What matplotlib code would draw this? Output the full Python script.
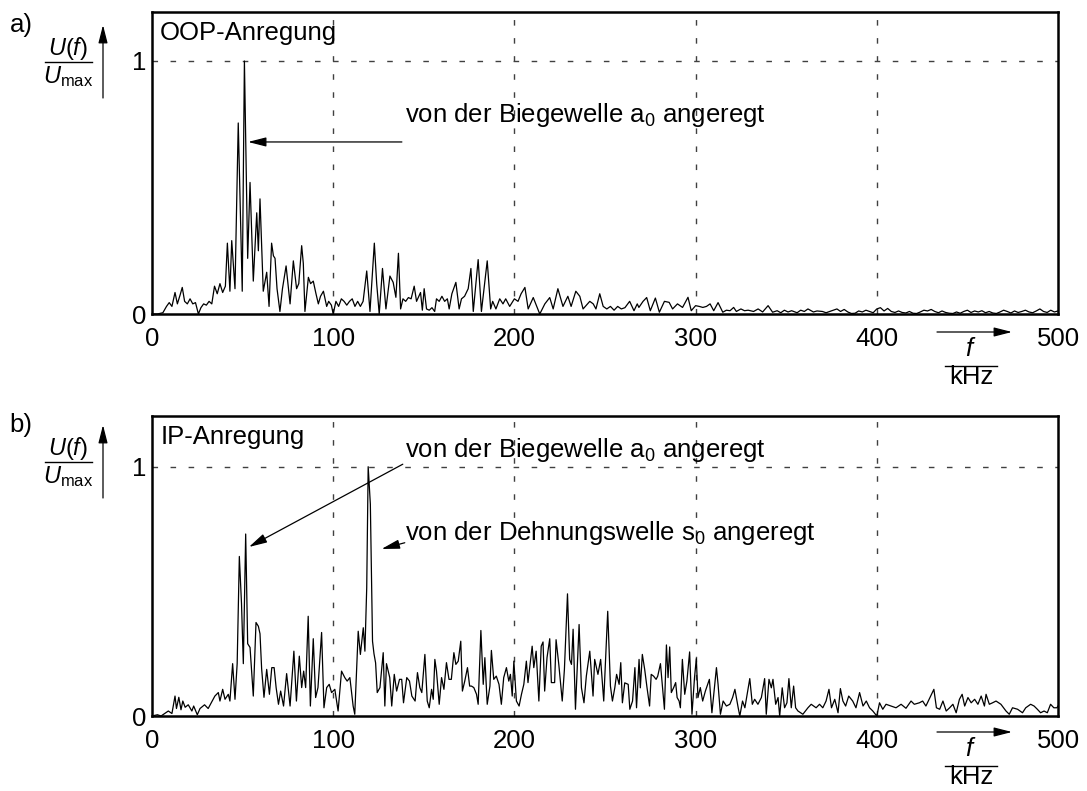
import matplotlib
matplotlib.use("Agg")
import matplotlib.pyplot as plt
from matplotlib.lines import Line2D

plt.rcParams['font.family'] = ['Liberation Sans', 'DejaVu Sans']
plt.rcParams['mathtext.fontset'] = 'custom'
plt.rcParams['mathtext.rm'] = 'Liberation Sans'
plt.rcParams['mathtext.it'] = 'Liberation Sans:italic'
plt.rcParams['mathtext.bf'] = 'Liberation Sans:bold'

# spectrum a) OOP excitation, (f in kHz, U/Umax)
spec_a = [
    (0, 0.0), (3, 0.0), (6, 0.005), (8, 0.03), (9.5, 0.045), (11, 0.03), (12.7, 0.085),
    (14, 0.04), (15.5, 0.075), (16.7, 0.105), (18, 0.05), (19.5, 0.04), (21, 0.06),
    (22.5, 0.04), (24, 0.045), (25.6, 0.0), (27, 0.025), (28.5, 0.04), (30, 0.035),
    (31.5, 0.05), (33, 0.04), (34.5, 0.11), (36, 0.08), (37.5, 0.12), (39, 0.085),
    (40.5, 0.11), (41.6, 0.28), (43, 0.09), (44, 0.29), (45.8, 0.10), (47.6, 0.755),
    (49.8, 0.09), (51, 1.0), (52.8, 0.22), (54.1, 0.52), (55.9, 0.13), (57.8, 0.40),
    (58.7, 0.25), (59.6, 0.455), (61.4, 0.09), (63.3, 0.165), (64.6, 0.03), (66, 0.28),
    (67, 0.23), (67.9, 0.22), (69, 0.1), (70.6, 0.01), (72, 0.1), (74, 0.19), (75, 0.12),
    (76.2, 0.04), (78, 0.21), (79.8, 0.1), (81, 0.12), (82.6, 0.27), (83.5, 0.2),
    (84.4, 0.01), (86.3, 0.145), (87.5, 0.12), (89, 0.13), (90.5, 0.08), (91.8, 0.04),
    (93, 0.07), (94.6, 0.09), (96.4, 0.03), (97.5, 0.05), (99, 0.035), (100, 0.0),
    (101.5, 0.05), (103, 0.03), (104.5, 0.06), (106, 0.05), (107.5, 0.035), (109, 0.05),
    (110.5, 0.06), (112, 0.03), (113.5, 0.05), (115, 0.03), (116.5, 0.05), (118.5, 0.17),
    (120.3, 0.01), (122.7, 0.28), (124, 0.12), (125.4, 0.0), (127.2, 0.18), (129.1, 0.02),
    (131.3, 0.15), (133.1, 0.125), (134.6, 0.066), (136, 0.24), (137.2, 0.02),
    (138.5, 0.06), (140, 0.05), (141.5, 0.065), (143, 0.06), (144.7, 0.11), (146, 0.05),
    (148.2, 0.085), (149.2, 0.015), (150.2, 0.1), (151.5, 0.02), (153, 0.015),
    (154.5, 0.025), (156, 0.01), (157, 0.06), (158.5, 0.05), (160, 0.07), (161.5, 0.05),
    (163, 0.06), (164, 0.02), (165.5, 0.08), (167.7, 0.125), (169.5, 0.02), (170.8, 0.06),
    (172.5, 0.07), (174.5, 0.1), (176, 0.18), (177.3, 0.01), (180, 0.215), (181.8, 0.01),
    (185, 0.21), (186.9, 0.02), (188, 0.05), (189.8, 0.02), (191.9, 0.06), (193.7, 0.04),
    (195.2, 0.06), (197.4, 0.03), (200, 0.06), (202, 0.05), (203.7, 0.08), (205.8, 0.105),
    (207.6, 0.02), (210.4, 0.065), (214, 0.0), (216.8, 0.04), (219.5, 0.065),
    (221.4, 0.02), (224, 0.1), (226.8, 0.03), (229.5, 0.07), (231.3, 0.03), (233.9, 0.09),
    (236.1, 0.07), (237.9, 0.02), (241.6, 0.05), (243.5, 0.04), (245, 0.02), (247.1, 0.08),
    (249, 0.03), (251, 0.02), (253, 0.03), (255, 0.015), (257, 0.03), (259, 0.02),
    (261, 0.025), (263.6, 0.05), (266, 0.013), (267.8, 0.04), (268.7, 0.026), (271, 0.05),
    (273, 0.065), (275, 0.013), (277.8, 0.063), (280, 0.007), (282.8, 0.05),
    (285.4, 0.046), (287.3, 0.02), (290, 0.04), (292.8, 0.026), (295.8, 0.066),
    (297.6, 0.013), (300, 0.033), (302, 0.03), (304, 0.026), (306, 0.03), (308, 0.04),
    (310, 0.013), (312.4, 0.045), (315, 0.007), (317, 0.015), (319, 0.013), (321, 0.026),
    (322.5, 0.01), (325, 0.02), (327, 0.013), (329, 0.015), (332, 0.01), (334.5, 0.02),
    (337, 0.008), (340, 0.033), (342.5, 0.007), (345, 0.013), (347, 0.005), (349, 0.015),
    (351, 0.008), (353, 0.013), (356, 0.005), (358, 0.015), (360, 0.01), (362, 0.02),
    (365, 0.008), (367, 0.012), (370, 0.01), (372, 0.005), (374, 0.01), (376, 0.015),
    (378, 0.02), (380, 0.01), (382, 0.018), (384, 0.008), (386, 0.002), (388, 0.003),
    (390, 0.012), (392, 0.008), (394, 0.015), (396, 0.01), (398, 0.005), (400, 0.02),
    (402, 0.025), (404, 0.012), (406, 0.022), (408, 0.01), (410, 0.006), (412, 0.012),
    (414, 0.006), (416, 0.004), (418, 0.01), (420, 0.003), (422, 0.002), (424, 0.008),
    (426, 0.015), (428, 0.012), (430, 0.018), (432, 0.01), (434, 0.005), (436, 0.012),
    (438, 0.006), (440, 0.003), (442, 0.002), (444, 0.008), (446, 0.003), (448, 0.01),
    (450, 0.015), (452, 0.006), (454, 0.012), (456, 0.008), (458, 0.013), (460, 0.005),
    (462, 0.01), (464, 0.004), (466, 0.002), (468, 0.008), (470, 0.015), (472, 0.01),
    (474, 0.004), (476, 0.012), (478, 0.006), (480, 0.01), (482, 0.015), (484, 0.008),
    (486, 0.005), (488, 0.012), (490, 0.02), (492, 0.01), (494, 0.006), (496, 0.015),
    (498, 0.008), (500, 0.012),
]

# spectrum b) IP excitation
spec_b = [
    (0, 0.0), (3, 0.005), (5, 0.0), (7, 0.01), (9, 0.02), (11, 0.01), (12.7, 0.08),
    (13.5, 0.03), (14.8, 0.075), (16, 0.025), (17, 0.06), (18.3, 0.035), (20, 0.045),
    (22, 0.02), (23, 0.04), (25, 0.005), (26.5, 0.03), (29, 0.045), (31, 0.03),
    (34.7, 0.08), (36.6, 0.094), (37.5, 0.06), (39, 0.107), (40.3, 0.067), (42.1, 0.087),
    (43, 0.06), (44.5, 0.21), (45.8, 0.067), (47, 0.21), (48.2, 0.64), (49.4, 0.45),
    (50.4, 0.21), (51.7, 0.73), (52.8, 0.29), (54.1, 0.275), (55.9, 0.08), (57.4, 0.375),
    (58.7, 0.36), (59.6, 0.33), (60.5, 0.19), (61.8, 0.075), (63.3, 0.187), (64.8, 0.087),
    (66.1, 0.194), (67.4, 0.194), (68.5, 0.114), (69.8, 0.047), (71, 0.1), (72.6, 0.04),
    (74.3, 0.17), (76.2, 0.04), (78.3, 0.26), (79.7, 0.06), (81.3, 0.24), (82.6, 0.114),
    (83.7, 0.18), (84.8, 0.114), (86.2, 0.4), (87.4, 0.04), (89, 0.31), (90.3, 0.074),
    (91.6, 0.114), (93.6, 0.335), (94.9, 0.033), (96.4, 0.114), (97.8, 0.127),
    (99.1, 0.094), (100.9, 0.107), (102.7, 0.02), (104.6, 0.18), (106.4, 0.154),
    (107.7, 0.14), (109.2, 0.154), (111, 0.04), (111.9, 0.007), (113.8, 0.34),
    (115, 0.247), (116.6, 0.354), (117.5, 0.26), (118.5, 0.515), (119.3, 1.0),
    (120.5, 0.85), (121.7, 0.3), (122.5, 0.25), (123.4, 0.213), (124.3, 0.094),
    (125.8, 0.114), (127.6, 0.254), (128.5, 0.04), (129.4, 0.21), (131.2, 0.154),
    (132.3, 0.04), (133.7, 0.167), (135, 0.1), (136.6, 0.147), (137.8, 0.147),
    (138.8, 0.053), (140.6, 0.154), (142.1, 0.14), (143.4, 0.08), (145.2, 0.06),
    (146.5, 0.174), (147.8, 0.114), (148.9, 0.094), (150.6, 0.247), (151.9, 0.06),
    (153, 0.033), (154.3, 0.107), (155.2, 0.067), (156.1, 0.227), (157, 0.18),
    (158.5, 0.047), (159.8, 0.154), (161.1, 0.107), (162.5, 0.214), (163.9, 0.147),
    (165.2, 0.147), (166.6, 0.254), (167.7, 0.207), (169, 0.22), (170.4, 0.30),
    (171.3, 0.1), (172.6, 0.14), (174.1, 0.194), (175.3, 0.12), (176.3, 0.12),
    (177.6, 0.114), (179.1, 0.087), (180, 0.047), (181.5, 0.343), (182.8, 0.127),
    (183.7, 0.234), (185, 0.047), (186.5, 0.12), (187.3, 0.263), (188.6, 0.147),
    (190, 0.16), (191.5, 0.127), (192.8, 0.047), (194.1, 0.154), (195.6, 0.194),
    (196.9, 0.14), (197.8, 0.167), (198.8, 0.08), (199.7, 0.22), (201.1, 0.06),
    (202.6, 0.04), (203.9, 0.087), (205.2, 0.127), (206.6, 0.22), (207.5, 0.134),
    (209.8, 0.28), (210.7, 0.194), (212, 0.26), (213.5, 0.06), (214.8, 0.28),
    (215.8, 0.297), (216.7, 0.1), (218, 0.234), (219.5, 0.31), (220.4, 0.134),
    (222.2, 0.134), (223, 0.306), (224.5, 0.207), (226.4, 0.06), (227.6, 0.187),
    (229.3, 0.49), (230.5, 0.227), (231.5, 0.207), (232.4, 0.348), (233.7, 0.027),
    (235.7, 0.367), (237, 0.113), (238.4, 0.053), (239.7, 0.16), (241.6, 0.26),
    (243.4, 0.08), (244.3, 0.227), (246.1, 0.167), (247.6, 0.227), (249.3, 0.06),
    (251.5, 0.42), (253, 0.12), (254.1, 0.06), (255.4, 0.113), (256.4, 0.167),
    (257.8, 0.127), (258.7, 0.214), (259.6, 0.053), (260.9, 0.133), (262.8, 0.127),
    (263.7, 0.027), (265.2, 0.06), (266.5, 0.194), (267.4, 0.033), (268.8, 0.227),
    (269.5, 0.113), (270.6, 0.247), (271.9, 0.187), (273.2, 0.113), (274.6, 0.04),
    (275.5, 0.167), (276.8, 0.16), (278.2, 0.147), (279.1, 0.16), (280.6, 0.21),
    (281.7, 0.12), (282.8, 0.027), (283.9, 0.285), (284.8, 0.154), (285.7, 0.277),
    (286.6, 0.094), (287.9, 0.114), (289, 0.134), (289.8, 0.074), (290.9, 0.06),
    (291.6, 0.033), (292.7, 0.227), (294, 0.087), (295.2, 0.14), (296.7, 0.257),
    (298, 0.007), (299.4, 0.154), (300.4, 0.23), (301.3, 0.074), (302.6, 0.114),
    (303.9, 0.06), (305.4, 0.1), (307.6, 0.147), (309, 0.013), (311.5, 0.194),
    (312.4, 0.127), (313.7, 0.007), (315.2, 0.06), (317, 0.04), (318.9, 0.047),
    (320.4, 0.074), (321.7, 0.107), (323.5, 0.033), (324.4, 0.0), (325.9, 0.06),
    (327.2, 0.033), (329.9, 0.15), (331.3, 0.047), (332.6, 0.067), (334.4, 0.047),
    (336.3, 0.074), (338.1, 0.15), (339, 0.007), (340.5, 0.147), (341.8, 0.113),
    (342.7, 0.147), (344.2, 0.047), (345.5, 0.074), (346.4, 0.0), (347.8, 0.113),
    (349.1, 0.033), (350.4, 0.053), (351.5, 0.15), (352.8, 0.033), (354.1, 0.12),
    (355.2, 0.033), (356.5, 0.02), (359.2, 0.007), (362, 0.033), (363.8, 0.047),
    (366.5, 0.033), (368.4, 0.047), (370.2, 0.033), (372, 0.06), (373.6, 0.107),
    (375, 0.033), (376.8, 0.067), (378.6, 0.013), (379.9, 0.11), (381.3, 0.06),
    (382.8, 0.04), (384.5, 0.08), (386.7, 0.06), (388.5, 0.033), (390.5, 0.094),
    (392.4, 0.04), (394.2, 0.06), (396, 0.033), (397.8, 0.02), (400, 0.0),
    (401.5, 0.053), (403.3, 0.027), (405.1, 0.047), (407.9, 0.04), (410.6, 0.033),
    (413.4, 0.047), (416.1, 0.031), (418.9, 0.06), (420.7, 0.047), (423.5, 0.053),
    (425.3, 0.06), (427.1, 0.04), (428.9, 0.067), (431.5, 0.107), (432.9, 0.033),
    (434.7, 0.027), (436.5, 0.06), (438.3, 0.02), (440.2, 0.033), (442, 0.047),
    (443.8, 0.013), (445.6, 0.067), (447.1, 0.087), (448.5, 0.04), (450.3, 0.074),
    (452.1, 0.053), (454, 0.067), (455.8, 0.047), (457.6, 0.08), (459.4, 0.04),
    (460.3, 0.087), (462.1, 0.047), (463.9, 0.053), (465.8, 0.06), (468.5, 0.047),
    (471.3, 0.02), (473.1, 0.007), (474.9, 0.033), (477.7, 0.027), (480.4, 0.013),
    (482.2, 0.033), (484.9, 0.047), (486.8, 0.04), (488.6, 0.027), (490.4, 0.013),
    (492.3, 0.02), (494.1, 0.013), (495.9, 0.047), (497.7, 0.033), (499.4, 0.033),
    (500, 0.04),
]

x_ticks = [0, 100, 200, 300, 400, 500]
y_ticks = [0, 1]
grid_x = [100, 200, 300, 400]
titles = ["OOP-Anregung", "IP-Anregung"]
panel_tags = ["a)", "b)"]
label_a0 = r"von der Biegewelle $\mathrm{a}_{\mathrm{0}}$ angeregt"
label_s0 = r"von der Dehnungswelle $\mathrm{s}_{\mathrm{0}}$ angeregt"

W, H = 1087, 791
FS = 18.5


def fx(x):
    return x / W


def fy(y):
    return 1 - y / H


fig = plt.figure(figsize=(W / 100, H / 100), dpi=100)
ax_a = fig.add_axes([fx(152), fy(314), 906 / W, 302 / H])
ax_b = fig.add_axes([fx(152), fy(716), 906 / W, 300 / H])

arrow_kw = dict(arrowstyle='-|>,head_length=0.55,head_width=0.14', color='k',
                lw=0.9, mutation_scale=20, shrinkA=0, shrinkB=0)


def setup(ax, spec, ymax, title, tag, off):
    f, u = zip(*spec)
    ax.plot(f, u, color='k', lw=0.9, zorder=3)
    ax.set_xlim(0, 500)
    ax.set_ylim(0, ymax)
    ax.set_xticks(x_ticks)
    ax.set_yticks(y_ticks)
    ax.tick_params(length=0, labelsize=FS)
    ax.tick_params(axis='x', pad=9)
    ax.tick_params(axis='y', pad=4)
    for s in ax.spines.values():
        s.set_linewidth(1.8)
    for g in grid_x:
        ax.axvline(g, color='0.25', lw=1.0, ls=(0, (4, 9)), zorder=1)
    ax.axhline(1, color='0.25', lw=1.0, ls=(0, (4, 9)), zorder=1)
    ax.text(0.009, 0.93, title, transform=ax.transAxes, fontsize=FS,
            ha='left', va='center')

    # panel tag and y label U(f)/Umax with arrow
    fig.text(fx(21), fy(25 + off), tag, fontsize=FS, ha='center', va='center')
    fig.text(fx(68), fy(48 + off), r'$U(f)$', fontsize=17, ha='center', va='center')
    fig.add_artist(Line2D([fx(45), fx(92)], [fy(61.5 + off)] * 2,
                          transform=fig.transFigure, color='k', lw=1.0))
    fig.text(fx(68), fy(77 + off), r'$U_{\mathrm{max}}$', fontsize=17,
             ha='center', va='center')
    ax.annotate('', xy=(fx(103), fy(25 + off)), xycoords='figure fraction',
                xytext=(fx(103), fy(98 + off)), textcoords='figure fraction',
                arrowprops=arrow_kw, annotation_clip=False)

    # x label f/kHz with arrow
    ax.annotate('', xy=(fx(1012), fy(332 + off)), xycoords='figure fraction',
                xytext=(fx(937), fy(332 + off)), textcoords='figure fraction',
                arrowprops=arrow_kw, annotation_clip=False)
    fig.text(fx(971), fy(349 + off), r'$f$', fontsize=FS, ha='center', va='center')
    fig.add_artist(Line2D([fx(945), fx(997)], [fy(366 + off)] * 2,
                          transform=fig.transFigure, color='k', lw=1.0))
    fig.text(fx(971), fy(377 + off), 'kHz', fontsize=FS, ha='center', va='center')


setup(ax_a, spec_a, 302 / 253, titles[0], panel_tags[0], 0)
setup(ax_b, spec_b, 300 / 249.3, titles[1], panel_tags[1], 400)

# annotations panel a
ax_a.text(139.5, 0.785, label_a0, fontsize=FS, ha='left', va='center')
ax_a.annotate('', xy=(53, 0.68), xytext=(137.9, 0.68), arrowprops=arrow_kw)

# annotations panel b
ax_b.text(139.5, 1.067, label_a0, fontsize=FS, ha='left', va='center')
ax_b.annotate('', xy=(53.5, 0.678), xytext=(138.4, 1.01), arrowprops=arrow_kw)
ax_b.text(139.5, 0.734, label_s0, fontsize=FS, ha='left', va='center')
ax_b.annotate('', xy=(126.7, 0.67), xytext=(139.5, 0.695), arrowprops=arrow_kw)

fig.savefig('out.png', dpi=100)
